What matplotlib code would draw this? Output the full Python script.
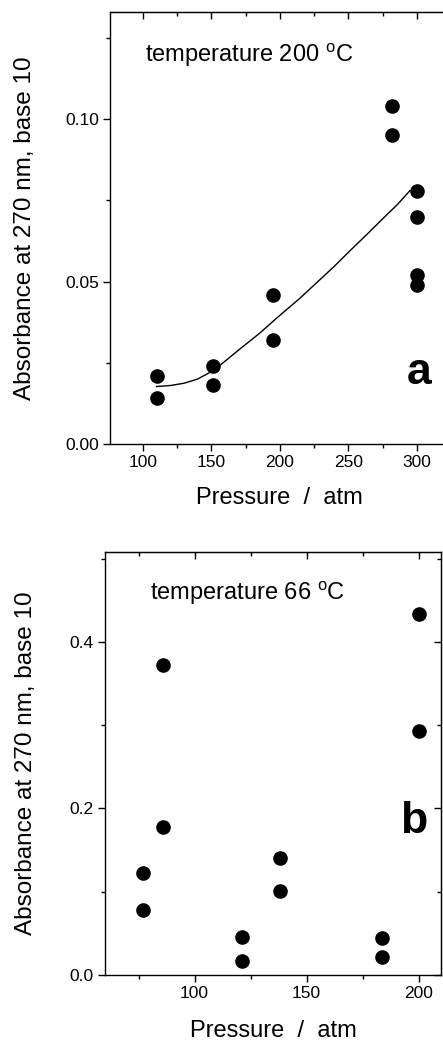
import matplotlib
matplotlib.use("Agg")
import matplotlib.pyplot as plt
from matplotlib.ticker import MultipleLocator, FormatStrFormatter

plt.rcParams['font.family'] = ['Liberation Sans', 'DejaVu Sans']
plt.rcParams['mathtext.fontset'] = 'custom'
plt.rcParams['mathtext.rm'] = 'Liberation Sans'

# panel a: 200 C
p_200 = [110, 110, 151, 151, 195, 195, 282, 282, 300, 300, 300, 300]
abs_200 = [0.021, 0.0142, 0.024, 0.0182, 0.046, 0.032, 0.104, 0.095, 0.078, 0.070, 0.052, 0.0488]
fit_p = [110, 120, 130, 140, 151, 160, 171, 185, 197, 215, 227, 240, 251, 264, 276, 286, 295]
fit_abs = [0.0177, 0.0180, 0.0187, 0.0200, 0.0225, 0.0255, 0.0293, 0.0340, 0.0385,
           0.0450, 0.0497, 0.0548, 0.0594, 0.0647, 0.0697, 0.0738, 0.0780]

# panel b: 66 C
p_66 = [77, 77, 86, 86, 121, 121, 138, 138, 183.5, 183.5, 200.4, 200.4]
abs_66 = [0.123, 0.078, 0.372, 0.178, 0.0455, 0.017, 0.141, 0.1006, 0.044, 0.0216, 0.434, 0.293]

W, H = 443, 1043
fig = plt.figure(figsize=(W / 100, H / 100), dpi=100)


def px_axes(left, top, right, bottom):
    return fig.add_axes([left / W, (H - bottom) / H, (right - left) / W, (bottom - top) / H])


def style(ax, xmaj, xmin, ymaj, ymin, yfmt):
    ax.xaxis.set_major_locator(MultipleLocator(xmaj))
    ax.xaxis.set_minor_locator(MultipleLocator(xmin))
    ax.yaxis.set_major_locator(MultipleLocator(ymaj))
    ax.yaxis.set_minor_locator(MultipleLocator(ymin))
    ax.yaxis.set_major_formatter(FormatStrFormatter(yfmt))
    ax.tick_params(which='both', direction='out', width=1.0, labelsize=12.5, pad=3)
    ax.tick_params(which='major', length=5)
    ax.tick_params(which='minor', length=3)
    for s in ax.spines.values():
        s.set_linewidth(1.0)
    # mirror ticks pointing inward on top/right
    top = ax.secondary_xaxis('top')
    top.xaxis.set_major_locator(MultipleLocator(xmaj))
    top.xaxis.set_minor_locator(MultipleLocator(xmin))
    top.tick_params(which='both', direction='in', labeltop=False, width=1.0)
    top.tick_params(which='major', length=5)
    top.tick_params(which='minor', length=3)
    right = ax.secondary_yaxis('right')
    right.yaxis.set_major_locator(MultipleLocator(ymaj))
    right.yaxis.set_minor_locator(MultipleLocator(ymin))
    right.tick_params(which='both', direction='in', labelright=False, width=1.0)
    right.tick_params(which='major', length=5)
    right.tick_params(which='minor', length=3)
    ax.set_xlabel("Pressure  /  atm", fontsize=17)
    ax.set_ylabel("Absorbance at 270 nm, base 10", fontsize=17.5)


ax1 = px_axes(110, 12, 451, 444)
ax1.plot(fit_p, fit_abs, color='black', lw=1.0)
ax1.plot(p_200, abs_200, 'o', color='black', ms=9.5, zorder=3)
ax1.set_xlim(76, 325)
ax1.set_ylim(0, 0.133)
style(ax1, 50, 25, 0.05, 0.025, '%.2f')
ax1.xaxis.set_label_coords(0.496, -0.099)
ax1.yaxis.set_label_coords(-0.217, 0.5)
ax1.text(0.103, 0.884, r"temperature 200 $^{\rm o}$C", transform=ax1.transAxes,
         fontsize=17, va='baseline', ha='left')
ax1.text(0.944, 0.139, "a", transform=ax1.transAxes, fontsize=32,
         fontweight='bold', ha='right', va='baseline')

ax2 = px_axes(105, 552, 441, 975)
ax2.plot(p_66, abs_66, 'o', color='black', ms=9.5, zorder=3)
ax2.set_xlim(60, 210)
ax2.set_ylim(0, 0.508)
style(ax2, 50, 25, 0.2, 0.1, '%.1f')
ax2.xaxis.set_label_coords(0.5, -0.107)
ax2.yaxis.set_label_coords(-0.202, 0.5)
ax2.text(0.134, 0.887, r"temperature 66 $^{\rm o}$C", transform=ax2.transAxes,
         fontsize=17, va='baseline', ha='left')
ax2.text(0.958, 0.336, "b", transform=ax2.transAxes, fontsize=32,
         fontweight='bold', ha='right', va='baseline')

fig.savefig("out.png", dpi=100)
